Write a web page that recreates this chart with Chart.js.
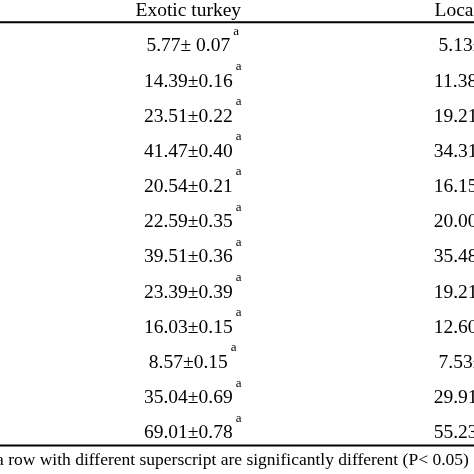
<!DOCTYPE html>
<html><head><meta charset="utf-8">
<script src="https://cdn.jsdelivr.net/npm/chart.js@4"></script>
<style>html,body{margin:0;padding:0;background:#fff}#w{width:474px;height:474px}</style>
</head><body><div id="w"><canvas id="c"></canvas></div>
<script>
const columns = ['Exotic turkey', 'Local turkey'];
const exotic = ['5.77± 0.07','14.39±0.16','23.51±0.22','41.47±0.40','20.54±0.21','22.59±0.35','39.51±0.36','23.39±0.39','16.03±0.15','8.57±0.15','35.04±0.69','69.01±0.78'];
const local = ['5.13±0.05','11.38±0.12','19.21±0.20','34.31±0.36','16.15±0.19','20.00±0.25','35.48±0.29','19.21±0.28','12.60±0.14','7.53±0.10','29.91±0.56','55.23±0.61'];
const supExotic = ['a','a','a','a','a','a','a','a','a','a','a','a'];
const footnote = 'a row with different superscript are significantly different (P< 0.05)';

const pts = (arr, col) => arr.map((t, i) => ({x: col, y: i + 1, t}));
const tablePlugin = {
  id: 'tbl',
  afterDatasetsDraw(chart) {
    const ctx = chart.ctx, xs = chart.scales.x, ys = chart.scales.y;
    ctx.save();
    ctx.fillStyle = '#000';
    ctx.textBaseline = 'middle';
    ctx.font = '19.5px "Liberation Serif"';
    ctx.textAlign = 'center';
    ctx.fillText(columns[0], xs.getPixelForValue(1), ys.getPixelForValue(0));
    ctx.fillText(columns[1], xs.getPixelForValue(2) + 6, ys.getPixelForValue(0));
    chart.data.datasets.forEach((ds, di) => {
      chart.getDatasetMeta(di).data.forEach((el, i) => {
        const t = ds.data[i].t;
        ctx.font = '19.5px "Liberation Serif"';
        ctx.textAlign = 'center';
        ctx.fillText(t, el.x, el.y);
        if (di === 0) {
          const w = ctx.measureText(t).width;
          ctx.font = '13px "Liberation Serif"';
          ctx.textAlign = 'left';
          ctx.fillText(supExotic[i], el.x + w / 2 + 3, el.y - 15);
        }
      });
    });
    ctx.strokeStyle = '#000';
    ctx.lineWidth = 2;
    const yTop = ys.getPixelForValue(0.32), yBot = ys.getPixelForValue(12.35);
    ctx.beginPath(); ctx.moveTo(0, yTop); ctx.lineTo(474, yTop);
    ctx.moveTo(0, yBot); ctx.lineTo(474, yBot); ctx.stroke();
    ctx.font = '17.5px "Liberation Serif"';
    ctx.textAlign = 'left';
    ctx.fillText(footnote, -4, ys.getPixelForValue(12.77));
    ctx.restore();
  }
};
new Chart(document.getElementById('c'), {
  type: 'scatter',
  data: { datasets: [
    { data: pts(exotic, 1), pointRadius: 0 },
    { data: pts(local, 2), pointRadius: 0 }
  ]},
  options: {
    responsive: true, maintainAspectRatio: false, animation: false,
    layout: { padding: 0 },
    plugins: { legend: { display: false }, tooltip: { enabled: false } },
    scales: {
      x: { type: 'linear', min: 0.35, max: 1.986, display: false },
      y: { type: 'linear', reverse: true, min: -0.313, max: 13.157, display: false }
    }
  },
  plugins: [tablePlugin]
});
</script></body></html>
